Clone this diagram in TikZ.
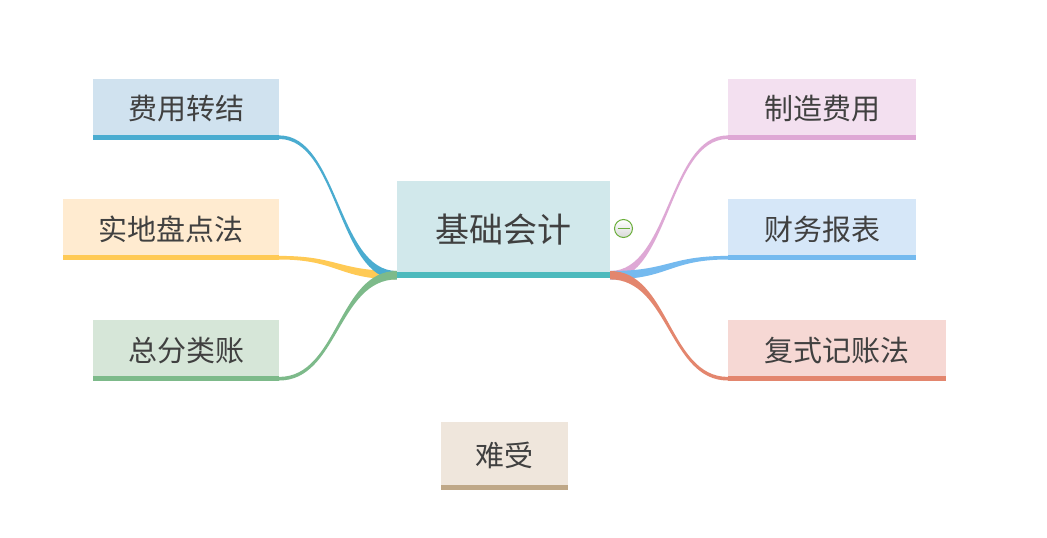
\documentclass[tikz,border=0pt]{standalone}
\usepackage{fontspec}
\newfontfamily\cjk{Noto Sans CJK SC}
\usetikzlibrary{calc}
\definecolor{txt}{HTML}{404040}
\definecolor{cfill}{HTML}{D1E8EB}\definecolor{cbar}{HTML}{4DBABD}
\definecolor{afill}{HTML}{D0E2EF}\definecolor{abar}{HTML}{4AACD0}
\definecolor{bfill}{HTML}{FFEBD0}\definecolor{bbar}{HTML}{FFCA55}
\definecolor{dfill}{HTML}{D6E6D8}\definecolor{dbar}{HTML}{7DBA8A}
\definecolor{efill}{HTML}{F3E0F0}\definecolor{ebar}{HTML}{DEA8D5}
\definecolor{ffill}{HTML}{D6E7F8}\definecolor{fbar}{HTML}{75BAEF}
\definecolor{gfill}{HTML}{F6D8D4}\definecolor{gbar}{HTML}{E3866E}
\definecolor{hfill}{HTML}{EFE6DC}\definecolor{hbar}{HTML}{BFA888}
\definecolor{iconline}{HTML}{6AAE3A}
\tikzset{
  topic/.style={inner sep=0pt, font=\cjk\fontsize{29}{31}\selectfont, text=txt, minimum height=61pt},
  maintopic/.style={inner sep=0pt, font=\cjk\fontsize{34}{36}\selectfont, text=txt, minimum width=213pt, minimum height=97pt},
}
% #1 colour, #2 centre-side coordinate, #3 leaf-side coordinate
\newcommand\branchto[3]{%
  \coordinate (m) at ($(#2)!0.5!(#3)$);
  \fill[#1] ($(#2)+(0,-4.2)$) .. controls ($(m|-#2)+(0,-4.2)$) and ($(m|-#3)+(0,-1.8)$) .. ($(#3)+(0,-1.8)$)
    -- ($(#3)+(0,1.8)$) .. controls ($(m|-#3)+(0,1.8)$) and ($(m|-#2)+(0,4.2)$) .. ($(#2)+(0,4.2)$) -- cycle;
}
\newcommand\barunder[3]{% #1 colour, #2 node, #3 thickness
  \fill[#1] (#2.south west) rectangle ($(#2.south east)+(0,-#3)$);
}
\begin{document}
\begin{tikzpicture}[x=1pt,y=-1pt]
\useasboundingbox[fill=white] (0,0) rectangle (1047,538);
% nodes
\node[maintopic, fill=cfill] (c) at (503.5,229.5) {\raisebox{3pt}{基础会计}};
\node[topic, fill=afill, minimum width=186pt] (a) at (186,109) {\raisebox{3pt}{费用转结}};
\node[topic, fill=bfill, minimum width=216pt] (b) at (171,229.5) {\raisebox{3pt}{实地盘点法}};
\node[topic, fill=dfill, minimum width=186pt] (d) at (186,350.5) {\raisebox{3pt}{总分类账}};
\node[topic, fill=efill, minimum width=188pt] (e) at (822,109) {\raisebox{3pt}{制造费用}};
\node[topic, fill=ffill, minimum width=188pt] (f) at (822,229.5) {\raisebox{3pt}{财务报表}};
\node[topic, fill=gfill, minimum width=218pt] (g) at (837,350.5) {\raisebox{3pt}{复式记账法}};
\node[topic, fill=hfill, minimum width=127pt, minimum height=68pt] (h) at (504.5,456) {\raisebox{3pt}{难受}};
% bars
\barunder{abar}{a}{5}
\barunder{bbar}{b}{5}
\barunder{dbar}{d}{5}
\barunder{ebar}{e}{5}
\barunder{fbar}{f}{5}
\barunder{gbar}{g}{5}
\barunder{hbar}{h}{5}
% connector end points
\coordinate (cl) at ($(c.south west)+(0,-3)$);
\coordinate (cr) at ($(c.south east)+(0,-3)$);
\coordinate (al) at ($(a.south east)+(0,-2.5)$);
\coordinate (bl) at ($(b.south east)+(0,-2.5)$);
\coordinate (dl) at ($(d.south east)+(0,-2.5)$);
\coordinate (el) at ($(e.south west)+(0,-2.5)$);
\coordinate (fl) at ($(f.south west)+(0,-2.5)$);
\coordinate (gl) at ($(g.south west)+(0,-2.5)$);
\branchto{bbar}{cl}{bl}
\branchto{abar}{cl}{al}
\branchto{dbar}{cl}{dl}
\branchto{ebar}{cr}{el}
\branchto{fbar}{cr}{fl}
\branchto{gbar}{cr}{gl}
\barunder{cbar}{c}{6}
% collapse icon
\coordinate (icon) at (623.5,228.5);
\draw[iconline, line width=1pt, top color=white, bottom color=black!15] (icon) circle[radius=9pt];
\draw[iconline, line width=1.5pt] ($(icon)+(-6,0)$) -- ($(icon)+(6,0)$);
\end{tikzpicture}
\end{document}
